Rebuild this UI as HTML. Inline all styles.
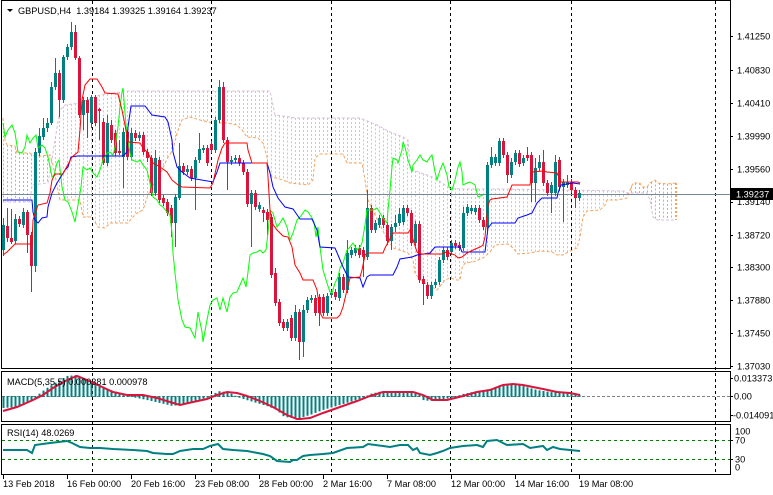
<!DOCTYPE html>
<html><head><meta charset="utf-8">
<style>
html,body{margin:0;padding:0;background:#fff;overflow:hidden;}
svg{display:block;}
text{font-family:"Liberation Sans",Arial,sans-serif;font-size:9.2px;fill:#000;white-space:pre;}
</style></head>
<body>
<svg id="s" width="773" height="495" viewBox="0 0 773 495" xmlns="http://www.w3.org/2000/svg">
<rect width="773" height="495" fill="#fff"/>
<defs>
<clipPath id="cm"><rect x="2" y="1" width="728" height="367"/></clipPath>
<clipPath id="cd"><rect x="2" y="372" width="728" height="49"/></clipPath>
<clipPath id="cr"><rect x="2" y="425" width="728" height="49"/></clipPath>
</defs>
<g id="cloud" clip-path="url(#cm)"></g>
<g id="grid"></g>
<line x1="2" y1="194.5" x2="730" y2="194.5" stroke="#778899" stroke-width="1"/>
<g id="cand" clip-path="url(#cm)"></g>
<g id="ichi" clip-path="url(#cm)" fill="none"></g>
<g id="macd" clip-path="url(#cd)"></g>
<g id="rsi" clip-path="url(#cr)"></g>
<!-- frames -->
<rect x="1.5" y="0.5" width="729" height="368" fill="none" stroke="#000"/>
<rect x="1.5" y="371.5" width="729" height="50" fill="none" stroke="#000"/>
<rect x="1.5" y="424.5" width="729" height="50" fill="none" stroke="#000"/>
<!-- title -->
<path d="M7 9 L13 9 L10 12 Z" fill="#000"/>
<text x="18" y="14">GBPUSD,H4  1.39184 1.39325 1.39164 1.39237</text>
<text x="7" y="385">MACD(5,35,5) 0.000381 0.000978</text>
<text x="7" y="436">RSI(14) 48.0269</text>
<!-- price axis -->
<g id="axis"></g>
<rect x="731" y="188" width="42" height="12" fill="#000"/>
<text x="736" y="197.5" style="fill:#fff">1.39237</text>
<text x="734" y="381.5">0.013373</text>
<text x="734" y="399.5">0.00</text>
<text x="733" y="418.5">-0.014091</text>
<text x="735" y="434.5">100</text>
<text x="735" y="443.5">70</text>
<text x="735" y="462.5">30</text>
<text x="735" y="470.5">0</text>
<line x1="730" y1="378.5" x2="733" y2="378.5" stroke="#000"/>
<line x1="730" y1="396.5" x2="733" y2="396.5" stroke="#000"/>
<line x1="730" y1="415.5" x2="733" y2="415.5" stroke="#000"/>
<line x1="730" y1="440.5" x2="733" y2="440.5" stroke="#000"/>
<line x1="730" y1="459.5" x2="733" y2="459.5" stroke="#000"/>
<g id="time"></g>
</svg>
<script>
(function(){
var NS="http://www.w3.org/2000/svg";
function el(parent,tag,attrs,txt){var e=document.createElementNS(NS,tag);for(var k in attrs)e.setAttribute(k,attrs[k]);if(txt!==undefined)e.textContent=txt;document.getElementById(parent).appendChild(e);return e;}
function pth(P){var d="";for(var i=0;i<P.length;i++)d+=(i?"L":"M")+P[i][0]+" "+P[i][1];return d;}
function interp(P,x){if(x<=P[0][0])return P[0][1];for(var k=1;k<P.length;k++){if(x<=P[k][0]){var a=P[k-1],b=P[k];return a[1]+(b[1]-a[1])*(x-a[0])/((b[0]-a[0])||1);}}return P[P.length-1][1];}

// Senkou A (orange) and B (thistle)
var SA=[[3,118],[5,140],[7,145],[15,146],[17,153],[30,153],[32,155],[40,156],[50,155],[53,165],[57,185],[60,200],[80,200],[83,217],[92,217],[98,227],[105,228],[110,223],[128,223],[132,218],[137,213],[143,210],[148,195],[155,182],[162,170],[168,157],[173,150],[177,133],[182,120],[190,117],[200,120],[213,123],[227,123],[237,125],[242,130],[247,137],[258,138],[263,143],[267,157],[268,167],[272,177],[283,180],[290,183],[308,185],[313,180],[315,158],[320,154],[343,154],[347,163],[362,163],[365,180],[368,200],[375,215],[385,235],[393,248],[408,253],[413,260],[415,273],[420,280],[437,290],[445,280],[450,278],[457,280],[460,280],[462,268],[465,263],[473,262],[483,258],[490,252],[495,245],[508,244],[513,248],[518,254],[530,253],[540,251],[552,252],[557,255],[563,255],[568,252],[577,248],[580,237],[583,217],[587,211],[600,210],[605,205],[607,200],[617,200],[627,198],[630,190],[633,183],[640,183],[642,187],[647,187],[650,183],[655,180],[658,183],[667,184],[676,183]];
var SB=[[3,202],[30,202],[32,185],[48,183],[50,172],[55,140],[60,110],[65,105],[80,103],[100,95],[120,92],[123,91],[270,91],[275,115],[290,117],[295,118],[360,118],[377,125],[390,132],[403,137],[408,140],[410,165],[413,170],[427,175],[435,178],[442,183],[448,187],[460,189],[500,189],[625,191],[627,193],[647,193],[650,200],[653,217],[657,220],[676,220]];
for(var x=3.5;x<=677;x+=4){var a=interp(SA,x),b=interp(SB,x);var c=a<b?"#F4A460":"#D8BFD8";el("cloud","line",{x1:x,x2:x,y1:Math.min(a,b),y2:Math.max(a,b),stroke:c,"stroke-width":1,"stroke-dasharray":"2,2"});}
el("cloud","path",{d:pth(SB),fill:"none",stroke:"#D8BFD8","stroke-width":1,"stroke-dasharray":"3,2"});
el("cloud","path",{d:pth(SA),fill:"none",stroke:"#F4A460","stroke-width":1,"stroke-dasharray":"3,2"});
el("cloud","line",{x1:676.5,x2:676.5,y1:183,y2:220,stroke:"#F4A460","stroke-dasharray":"2,2"});

// vertical grid dashed
[92,211,331,450,571,715].forEach(function(g){el("grid","line",{x1:g+0.5,x2:g+0.5,y1:1,y2:474,stroke:"#000","stroke-width":1,"stroke-dasharray":"3,3"});});

// candles
var B=[[1,225,250,218,256],[0,226,238,208,242],[0,238,242,209,244],[1,219,241,214,244],[0,219,224,216,227],[1,212,225,208,228],[0,212,235,210,253],[0,235,266,232,292],[1,152,266,148,272],[1,136,153,128,156],[1,128,137,118,140],[1,123,128,118,132],[1,87,123,82,125],[1,73,87,58,90],[0,73,100,70,117],[1,57,100,55,103],[1,47,57,44,60],[1,32,47,22,50],[0,32,58,25,60],[0,58,115,56,118],[1,100,115,97,130],[0,100,113,97,138],[1,97,123,95,128],[0,97,123,95,126],[0,109,111,108,140],[0,122,163,118,165],[1,123,163,115,166],[0,125,140,120,143],[0,133,153,130,156],[0,151,153,140,155],[1,132,157,128,188],[0,132,157,130,160],[1,133,157,128,160],[0,133,138,130,141],[1,135,138,132,141],[0,135,152,132,155],[0,152,158,149,162],[0,158,193,155,196],[1,158,193,150,196],[0,160,200,157,203],[0,198,203,195,206],[0,202,213,199,216],[0,208,223,205,237],[1,197,223,194,247],[1,166,198,143,200],[0,166,172,163,175],[1,169,172,165,175],[0,169,178,166,181],[1,160,178,157,210],[1,149,160,133,163],[1,148,150,145,153],[0,148,163,145,166],[0,144,150,141,153],[1,120,150,117,153],[1,87,120,80,123],[0,87,140,82,143],[0,140,162,137,190],[1,160,162,156,165],[1,158,160,155,163],[0,158,163,155,166],[0,163,172,160,175],[0,172,204,169,207],[1,193,204,190,247],[0,193,207,190,210],[1,205,209,202,212],[0,210,213,207,222],[0,212,220,209,235],[0,217,275,214,278],[0,273,303,268,306],[0,302,323,299,326],[0,322,328,319,331],[1,322,328,319,331],[0,318,338,315,341],[1,312,338,305,341],[0,312,342,309,360],[1,310,342,305,357],[1,300,310,297,313],[1,298,300,295,303],[0,298,313,295,316],[0,297,313,294,326],[0,297,313,294,316],[1,296,313,293,316],[1,293,295,290,298],[0,292,297,289,300],[1,277,298,273,301],[0,277,290,274,293],[1,253,290,240,293],[1,250,255,247,258],[1,248,253,245,256],[0,248,255,245,258],[0,250,257,247,277],[1,208,257,190,260],[0,208,230,205,233],[1,223,230,220,233],[1,218,225,215,228],[0,218,225,215,228],[0,225,241,222,245],[1,227,241,224,250],[1,223,227,215,232],[1,214,223,208,226],[1,208,222,205,225],[0,208,213,205,216],[0,213,243,210,246],[1,224,243,221,246],[0,224,280,221,283],[0,279,284,276,305],[0,285,296,282,299],[1,285,296,282,299],[1,282,285,279,288],[1,260,282,257,285],[1,250,260,247,263],[0,250,257,247,260],[1,243,252,240,255],[0,243,246,240,249],[0,245,248,242,251],[1,213,248,207,251],[1,207,213,204,216],[1,208,211,205,214],[1,208,212,205,215],[0,208,220,205,223],[0,220,227,217,230],[1,165,227,162,230],[1,157,165,147,168],[1,157,163,154,166],[1,141,163,138,166],[0,141,155,138,158],[0,155,175,152,183],[1,162,175,158,178],[1,153,162,150,165],[0,153,164,150,167],[1,158,163,155,166],[0,155,158,147,161],[0,155,183,152,202],[1,168,183,158,202],[1,162,168,155,171],[0,162,183,150,186],[0,183,193,180,196],[1,185,193,182,213],[1,162,193,155,196],[0,160,187,157,191],[1,182,187,179,222],[1,182,185,175,188],[0,182,190,179,193],[0,190,198,187,208],[1,193,198,190,201]];
var N=B.length;
var x0=579.5-4*(N-1);
for(var i=0;i<N;i++){var c=B[i],cx=x0+4*i,col=c[0]?"#008080":"#DC143C";
el("cand","line",{x1:cx,x2:cx,y1:c[3],y2:c[4],stroke:col,"stroke-width":1});
var h=Math.max(1,c[2]-c[1]);el("cand","rect",{x:cx-1.5,y:c[1],width:3,height:h,fill:col});}

// Ichimoku lines
var TK=[[3,255],[7,252],[15,244],[32,244],[33,220],[38,205],[47,203],[50,193],[52,180],[55,174],[63,174],[65,170],[72,157],[78,152],[80,130],[82,100],[85,85],[90,79],[97,79],[102,87],[105,93],[118,94],[122,110],[125,125],[128,142],[140,143],[143,148],[148,153],[153,163],[160,167],[167,172],[172,180],[178,185],[182,187],[210,188],[213,183],[218,160],[222,148],[225,143],[247,143],[248,150],[252,163],[267,163],[268,177],[270,210],[272,223],[277,230],[283,236],[288,237],[292,247],[295,265],[300,273],[303,280],[313,280],[317,290],[320,313],[323,318],[337,318],[340,315],[343,307],[347,290],[350,278],[360,277],[362,270],[365,255],[368,253],[383,253],[385,248],[392,235],[393,233],[408,233],[410,230],[417,252],[420,254],[442,254],[446,252],[455,255],[458,258],[462,257],[467,253],[473,250],[480,247],[483,245],[485,237],[487,215],[488,205],[490,200],[492,199],[507,197],[510,190],[512,185],[530,185],[532,172],[543,171],[547,172],[557,173],[561,182],[578,182],[580,183]];
var KJ=[[3,200],[32,200],[33,212],[35,220],[38,223],[42,218],[47,217],[48,207],[52,193],[57,183],[62,175],[65,170],[68,167],[71,157],[77,156],[123,156],[127,152],[128,127],[131,106],[145,106],[152,115],[165,117],[168,122],[172,140],[173,152],[177,167],[182,172],[190,178],[213,182],[217,172],[220,163],[267,163],[270,173],[273,187],[278,198],[285,207],[293,209],[300,219],[312,219],[317,230],[320,247],[335,248],[338,255],[343,267],[348,277],[360,278],[363,287],[367,277],[370,275],[393,275],[397,267],[400,259],[412,257],[417,255],[430,253],[435,247],[460,247],[462,252],[485,252],[488,228],[492,223],[515,223],[518,218],[527,215],[532,213],[537,203],[542,198],[557,198],[558,193],[561,185],[573,183],[580,184]];
var CH=[[3,123],[5,137],[8,130],[12,125],[15,133],[18,152],[22,153],[25,147],[27,135],[30,143],[33,138],[36,135],[38,148],[42,145],[45,148],[48,157],[50,167],[52,177],[54,175],[57,163],[59,160],[62,187],[65,200],[68,202],[72,212],[75,222],[78,205],[81,187],[83,167],[87,170],[90,168],[93,173],[97,177],[100,170],[103,160],[107,153],[110,152],[113,155],[115,147],[118,127],[120,107],[122,92],[123,88],[125,113],[127,135],[130,153],[132,160],[137,162],[140,160],[143,165],[147,170],[150,183],[153,197],[157,200],[160,205],[163,207],[167,212],[170,215],[172,233],[173,253],[175,273],[178,300],[182,320],[185,327],[190,328],[195,338],[198,312],[202,332],[203,342],[207,320],[210,305],[213,300],[217,298],[220,310],[223,298],[227,312],[230,297],[233,293],[237,292],[240,285],[243,278],[246,287],[248,272],[250,255],[253,253],[257,252],[260,250],[263,253],[266,250],[268,233],[270,210],[273,213],[277,227],[280,223],[283,218],[287,227],[290,240],[293,233],[297,220],[300,217],[305,210],[308,212],[312,218],[314,222],[316,237],[318,227],[320,247],[323,270],[327,283],[330,292],[332,293],[335,283],[338,277],[340,268],[343,263],[347,250],[350,247],[353,243],[357,250],[360,247],[362,243],[365,225],[367,210],[373,210],[377,208],[380,213],[383,218],[387,223],[388,210],[390,190],[392,167],[393,158],[397,160],[398,163],[402,150],[403,142],[405,147],[408,160],[412,172],[413,165],[417,160],[420,155],[423,160],[427,162],[430,157],[432,155],[435,172],[437,180],[440,170],[443,163],[447,175],[449,187],[452,190],[455,180],[458,167],[460,162],[462,172],[463,185],[467,183],[470,182],[475,185],[478,197],[483,195]];
el("ichi","path",{d:pth(CH),stroke:"#00FF00","stroke-width":1});
el("ichi","path",{d:pth(KJ),stroke:"#0000FF","stroke-width":1});
el("ichi","path",{d:pth(TK),stroke:"#FF0000","stroke-width":1});

// MACD
el("macd","line",{x1:2,x2:730,y1:396.5,y2:396.5,stroke:"#808080","stroke-dasharray":"3,2"});
var HI=[[3,408],[17,407],[33,400],[37,397],[40,393],[50,386],[60,380],[67,376],[77,375],[87,380],[97,386],[107,389],[117,392],[127,396],[147,400],[160,403],[173,406],[183,404],[193,401],[207,398],[213,394],[220,391],[230,393],[240,398],[250,401],[267,406],[277,410],[283,416],[290,418],[300,418],[310,415],[323,410],[340,405],[353,401],[363,398],[370,394],[383,391],[397,391],[413,392],[420,395],[423,400],[430,401],[440,400],[450,398],[457,396],[463,394],[477,391],[490,389],[503,384],[510,384],[523,386],[537,390],[550,392],[563,393],[580,395]];
for(var i=0;i<N;i++){var cx=x0+4*i,v=interp(HI,cx);var t=Math.min(v,396),bt=Math.max(v,397);el("macd","rect",{x:cx-1,y:t,width:2,height:Math.max(1,bt-t),fill:"#008080"});}
var SG=[[3,411],[17,407],[33,400],[43,395],[53,388],[67,380],[77,376],[87,380],[100,386],[113,392],[127,395],[143,395],[157,398],[170,402],[180,405],[193,402],[207,399],[217,395],[227,392],[237,393],[247,396],[260,401],[273,407],[287,415],[297,419],[300,419],[310,418],[323,413],[340,407],[357,401],[370,396],[383,392],[413,392],[423,395],[433,400],[447,400],[463,396],[477,392],[490,390],[503,385],[513,384],[523,385],[543,389],[557,392],[570,393],[580,395]];
el("macd","path",{d:pth(SG),fill:"none",stroke:"#DC143C","stroke-width":2});

// RSI
el("rsi","line",{x1:2,x2:730,y1:440.5,y2:440.5,stroke:"#008000","stroke-dasharray":"3,3"});
el("rsi","line",{x1:2,x2:730,y1:459.5,y2:459.5,stroke:"#008000","stroke-dasharray":"3,3"});
var RS=[[3,450],[27,450],[32,453],[35,445],[50,443],[67,441],[72,443],[80,447],[90,448],[100,448],[113,449],[133,450],[147,451],[153,453],[167,454],[173,454],[180,451],[193,449],[203,449],[210,446],[218,444],[223,449],[233,450],[247,451],[263,454],[270,456],[277,461],[290,462],[293,460],[297,460],[303,456],[310,455],[323,454],[333,453],[347,448],[363,447],[368,444],[383,446],[390,447],[400,445],[408,445],[413,450],[417,448],[420,453],[430,455],[437,453],[443,451],[450,448],[463,446],[477,445],[483,447],[487,441],[497,440],[507,445],[523,444],[530,448],[543,446],[547,450],[553,447],[560,449],[570,450],[580,451]];
el("rsi","path",{d:pth(RS),fill:"none",stroke:"#008080","stroke-width":2});

// price axis
var PL=[["1.41250",36],["1.40830",70],["1.40410",103],["1.39990",136],["1.39560",169],["1.39140",201.5],["1.38720",235],["1.38300",267],["1.37880",300],["1.37450",333],["1.37030",366]];
PL.forEach(function(p){el("axis","line",{x1:730,x2:733,y1:Math.round(p[1])+0.5,y2:Math.round(p[1])+0.5,stroke:"#000"});el("axis","text",{x:737,y:p[1]+3.4},p[0]);});
// make current price label on top
var s=document.getElementById("s");var bx=s.querySelector('rect[x="731"]');var bt=bx.nextElementSibling;s.appendChild(bx);s.appendChild(bt);

// time axis
var TL=["13 Feb 2018","16 Feb 00:00","20 Feb 16:00","23 Feb 08:00","28 Feb 00:00","2 Mar 16:00","7 Mar 08:00","12 Mar 00:00","14 Mar 16:00","19 Mar 08:00"];
TL.forEach(function(t,k){var tx=3+64*k;el("time","line",{x1:tx+0.5,x2:tx+0.5,y1:475,y2:479,stroke:"#000"});el("time","text",{x:tx,y:487},t);});
})();
</script>
</body></html>
